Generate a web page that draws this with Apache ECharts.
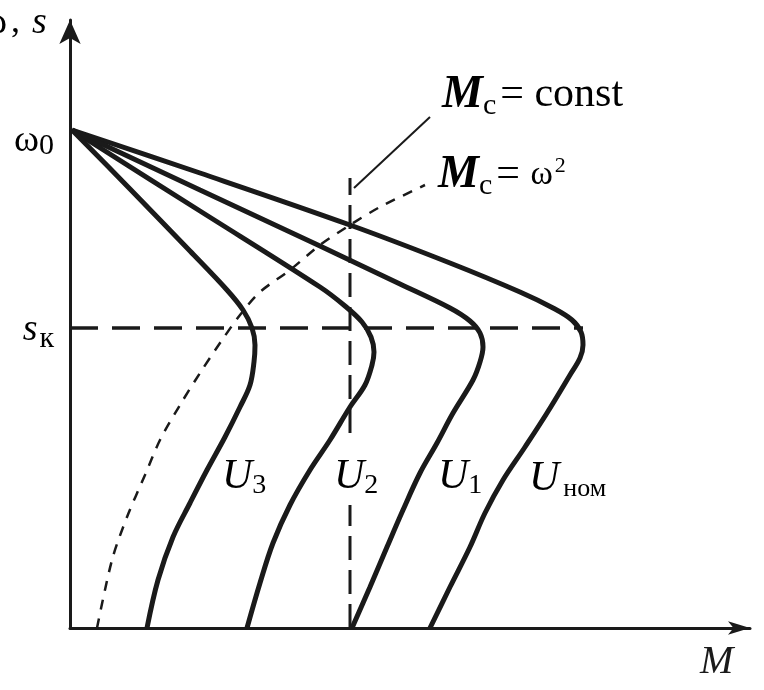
<!DOCTYPE html>
<html><head><meta charset="utf-8">
<script src="https://cdn.jsdelivr.net/npm/echarts@6/dist/echarts.min.js"></script>
<style>html,body{margin:0;padding:0;background:#fff}#c{width:764px;height:690px}</style>
</head><body><div id="c"></div>
<script>
// Torque M (x) vs speed ω (y); ω0 = 5, s_к level = 3 (arbitrary units)
const uNomM = [0.02,1.30,2.80,3.80,4.50,4.83,5.02,5.11,5.13,5.10,5.00,4.77,4.55,4.33,4.15,4.00,3.80,3.60];
const uNomW = [4.98,4.55,4.03,3.65,3.36,3.20,3.08,2.96,2.83,2.70,2.53,2.15,1.81,1.48,1.15,0.81,0.41,0.00];
const u1M = [0.02,1.30,2.50,3.30,3.80,4.00,4.10,4.13,4.10,4.03,3.83,3.67,3.50,3.33,3.17,3.00,2.82];
const u1W = [4.98,4.38,3.82,3.44,3.20,3.07,2.95,2.81,2.66,2.48,2.15,1.85,1.55,1.18,0.81,0.41,0.00];
const u2M = [0.02,1.30,2.50,2.75,2.92,3.01,3.04,3.02,2.95,2.80,2.60,2.40,2.20,2.03,1.90,1.77];
const u2W = [4.98,4.17,3.41,3.22,3.06,2.91,2.76,2.63,2.43,2.21,1.88,1.58,1.23,0.85,0.45,0.00];
const u3M = [0.02,0.60,1.20,1.57,1.73,1.82,1.85,1.84,1.80,1.70,1.55,1.37,1.20,1.03,0.88,0.77];
const u3W = [4.98,4.39,3.77,3.38,3.18,3.00,2.83,2.66,2.43,2.21,1.91,1.58,1.25,0.91,0.48,0.00];
const fanM = [0.27,0.42,0.57,0.75,0.90,1.10,1.30,1.50,1.70,1.90,2.20,2.50,2.80,3.10,3.55];
const fanW = [0.00,0.68,1.11,1.53,1.88,2.23,2.55,2.85,3.13,3.36,3.58,3.83,4.03,4.21,4.43];
const constLowM = [2.80,2.80];
const constLowW = [0.00,1.23];
const constHighM = [2.80,2.80];
const constHighW = [1.95,4.50];
const leaderM = [2.84,3.60];
const leaderW = [4.40,5.11];
const skM = [0.00,5.13];
const skW = [3.00,3.00];
const yTickValues = [5,3];
const yTickLabels = ['{a|ω}{b|0}','{s|s}{c|к}'];
const curveLabels = ['{u|U}{s|ном}','{u|U}{d|1}','{u|U}{d|2}','{u|U}{d|3}'];

const ink = '#1a1a1a';
const serif = '"Liberation Serif","DejaVu Serif",serif';
const pairs = (m,w)=>m.map((v,i)=>[v,w[i]]);

const chart = echarts.init(document.getElementById('c'));
const curve = (m,w)=>({type:'line',data:pairs(m,w),showSymbol:false,smooth:0.35,
  lineStyle:{color:ink,width:5},z:5,silent:true});
const straight = (m,w,width,type)=>({type:'line',data:pairs(m,w),showSymbol:false,silent:true,
  lineStyle:{color:ink,width:width,type:type}});
const uRich = {u:{fontFamily:serif,fontStyle:'italic',fontSize:42,color:ink},
  d:{fontFamily:serif,fontSize:28,color:ink,padding:[18,0,0,0]},
  s:{fontFamily:serif,fontSize:26,color:ink,padding:[20,0,0,4]}};
const mRich = {m:{fontFamily:serif,fontStyle:'italic',fontWeight:'bold',fontSize:46,color:ink},
  c:{fontFamily:serif,fontSize:30,color:ink,padding:[22,4,0,0]},
  t:{fontFamily:serif,fontSize:42,color:ink},
  w:{fontFamily:serif,fontSize:34,color:ink},
  p:{fontFamily:serif,fontSize:22,color:ink,padding:[0,0,18,2]}};
const tickRich = {a:{fontFamily:serif,fontSize:38,color:ink},
  b:{fontFamily:serif,fontSize:30,color:ink,padding:[10,0,0,0]},
  s:{fontFamily:serif,fontStyle:'italic',fontSize:38,color:ink},
  c:{fontFamily:serif,fontSize:30,color:ink,padding:[18,0,0,2]}};

chart.setOption({
  backgroundColor:'#fff',
  animation:false,
  grid:{left:70,right:14,top:20,bottom:62},
  xAxis:{type:'value',min:0,max:6.8,
    axisLine:{lineStyle:{color:ink,width:3},symbol:['none','arrow'],symbolSize:[10,22]},
    axisTick:{show:false},axisLabel:{show:false},splitLine:{show:false}},
  yAxis:{type:'value',min:0,max:6.08,
    axisLine:{lineStyle:{color:ink,width:3},symbol:['none','arrow'],symbolSize:[16,24]},
    axisTick:{show:false},splitLine:{show:false},axisLabel:{show:false}},
  series:[
    curve(uNomM,uNomW),curve(u1M,u1W),curve(u2M,u2W),curve(u3M,u3W),
    {type:'line',data:pairs(fanM,fanW),showSymbol:false,smooth:0.3,silent:true,
      lineStyle:{color:ink,width:2.5,type:[10,9]}},
    straight(constLowM,constLowW,3,[24,10]),
    straight(constHighM,constHighW,3,[24,10]),
    straight(leaderM,leaderW,2,'solid'),
    straight(skM,skW,3.5,[28,14])
  ]
});

// y tick labels placed at the axis scale positions
const tickOffsets = [13, 2];
const tickGraphics = yTickValues.map((v,i)=>{
  const p = chart.convertToPixel({gridIndex:0},[0,v]);
  return {type:'text',x:p[0]-16,y:p[1]+tickOffsets[i],
    style:{text:yTickLabels[i],rich:tickRich,align:'right',verticalAlign:'middle'}};
});

chart.setOption({graphic:[
  ...tickGraphics,
  {type:'text',left:-18,top:4,style:{text:'{w|ω}{t|,}{v|s}',rich:{
    w:{fontFamily:serif,fontSize:38,color:ink},
    t:{fontFamily:serif,fontSize:36,color:ink,padding:[0,0,0,4]},
    v:{fontFamily:serif,fontStyle:'italic',fontSize:38,color:ink,padding:[0,0,0,12]}}}},
  {type:'text',left:442,top:72,style:{text:'{m|M}{c|c}{t|= const}',rich:mRich}},
  {type:'text',left:438,top:152,style:{text:'{m|M}{c|c}{t|= }{w|ω}{p|2}',rich:mRich}},
  {type:'text',left:529,top:458,style:{text:curveLabels[0],rich:uRich}},
  {type:'text',left:438,top:456,style:{text:curveLabels[1],rich:uRich}},
  {type:'text',left:334,top:456,style:{text:curveLabels[2],rich:uRich}},
  {type:'text',left:222,top:456,style:{text:curveLabels[3],rich:uRich}},
  {type:'text',left:700,top:642,style:{text:'M',fontFamily:serif,fontStyle:'italic',fontSize:40,fill:ink}}
]});
</script></body></html>
